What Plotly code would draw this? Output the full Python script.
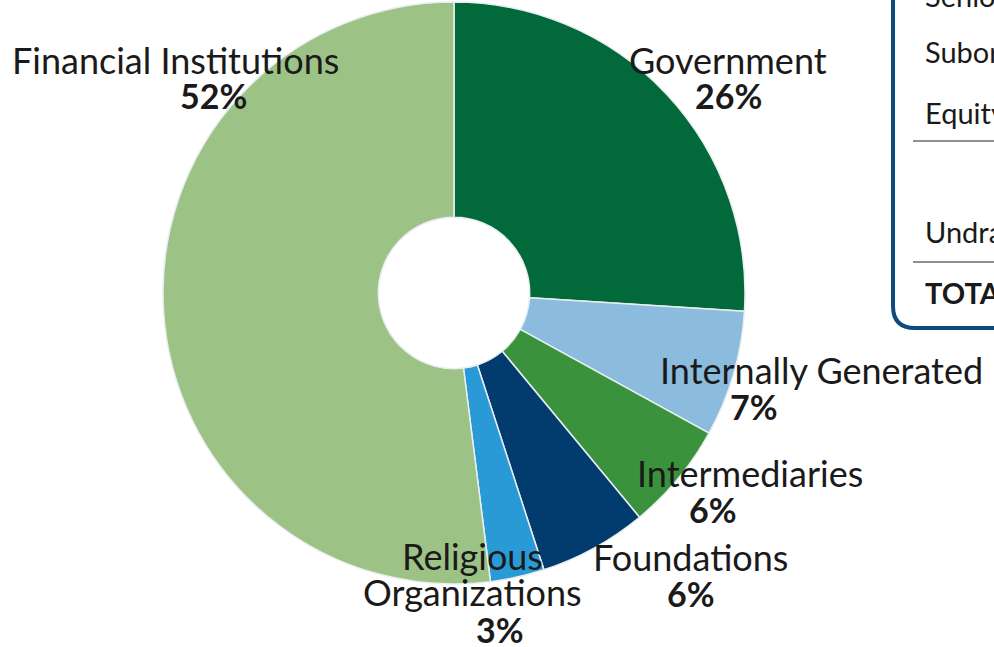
import plotly.graph_objects as go

W, H = 994, 647

categories = ["Government", "Internally Generated", "Intermediaries", "Foundations",
              "Religious Organizations", "Financial Institutions"]
values = [26, 7, 6, 6, 3, 52]
colors = ["#02693A", "#8BBBDD", "#3A923C", "#023C6E", "#2A9AD7", "#9DC286"]

# label display lines (name lines, percent) and their centre positions in px
label_lines = {
    "Government": ["Government"],
    "Internally Generated": ["Internally Generated"],
    "Intermediaries": ["Intermediaries"],
    "Foundations": ["Foundations"],
    "Religious Organizations": ["Religious", "Organizations"],
    "Financial Institutions": ["Financial Institutions"],
}
label_pos = {  # (name x, first name line y, pct x, pct y)
    "Government": (728, 60, 728, 96),
    "Internally Generated": (821, 370, 754, 406),
    "Intermediaries": (750, 473, 713, 509),
    "Foundations": (690, 557, 691, 593),
    "Religious Organizations": (472, 556, 500, 629),
    "Financial Institutions": (175, 60, 213, 96),
}

table_rows = ["Senior Debt", "Subordinated Debt", "Equity", "Undrawn Commitments", "TOTAL"]
table_y = [-4, 52, 112, 232, 292]

FONT = "Lato"
TXT = "#1a1a1a"

def px(x):
    return x / W

def py(y):
    return 1 - y / H

cx, cy, r = 454, 293, 291

fig = go.Figure(go.Pie(
    labels=categories, values=values, sort=False, direction="clockwise", rotation=0,
    hole=0.26, marker=dict(colors=colors, line=dict(color="#e8eef0", width=1.5)),
    textinfo="none", hoverinfo="label+percent",
    domain=dict(x=[px(cx - r), px(cx + r)], y=[py(cy + r), py(cy - r)]),
    showlegend=False,
))

ann = []
for c, v in zip(categories, values):
    nx, ny, qx, qy = label_pos[c]
    for i, line in enumerate(label_lines[c]):
        ann.append(dict(x=px(nx), y=py(ny + 36 * i), xref="paper", yref="paper",
                        text=line, showarrow=False, xanchor="center", yanchor="middle",
                        font=dict(family=FONT, size=36, color=TXT)))
    ann.append(dict(x=px(qx), y=py(qy), xref="paper", yref="paper",
                    text=f"<b>{v}%</b>", showarrow=False, xanchor="center", yanchor="middle",
                    font=dict(family=FONT, size=34, color=TXT)))

for t, y in zip(table_rows, table_y):
    txt = f"<b>{t}</b>" if t == "TOTAL" else t
    ann.append(dict(x=px(923), y=py(y), xref="paper", yref="paper", text=txt,
                    showarrow=False, xanchor="left", yanchor="middle",
                    font=dict(family=FONT, size=29, color=TXT)))

# table box (rounded corner at bottom-left), extends past the window edges
x0, y0, rad = 893, 328, 22
path = (f"M {px(x0)},{py(-20)} L {px(x0)},{py(y0 - rad)} "
        f"Q {px(x0)},{py(y0)} {px(x0 + rad)},{py(y0)} L {px(1100)},{py(y0)}")
shapes = [
    dict(type="path", path=path, xref="paper", yref="paper",
         line=dict(color="#0E4A7C", width=4)),
    dict(type="line", x0=px(913), x1=px(1100), y0=py(141), y1=py(141),
         xref="paper", yref="paper", line=dict(color="#222", width=1.2)),
    dict(type="line", x0=px(913), x1=px(1100), y0=py(262), y1=py(262),
         xref="paper", yref="paper", line=dict(color="#222", width=1.2)),
]

fig.update_layout(width=W, height=H, margin=dict(l=0, r=0, t=0, b=0),
                  paper_bgcolor="white", plot_bgcolor="white",
                  annotations=ann, shapes=shapes)
fig.write_html("out.html", config={"displayModeBar": False},
               post_script="document.body.style.margin='0';document.body.style.overflow='hidden';")
